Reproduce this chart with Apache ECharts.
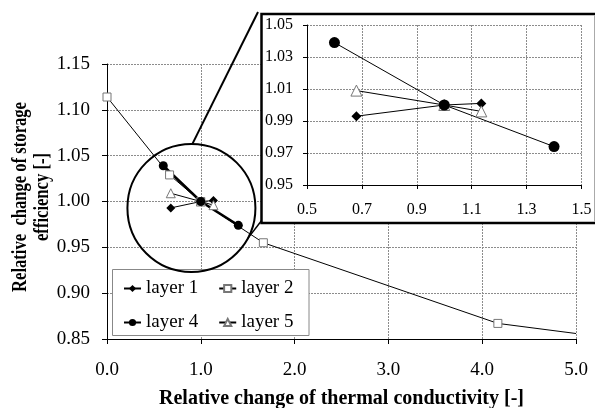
<!DOCTYPE html>
<html><head><meta charset="utf-8">
<script src="https://cdn.jsdelivr.net/npm/echarts@6/dist/echarts.min.js"></script>
<style>html,body{margin:0;padding:0;background:#fff}#c{width:595px;height:408px}</style>
</head><body><div id="c"></div>
<script>
// Relative change of storage efficiency vs. relative change of thermal conductivity
const layer1X = [0.68, 1.0, 1.135];
const layer1Y = [0.993, 1.0, 1.001];
const layer2X = [0.0, 0.667, 1.0, 1.667, 4.167, 5.0];
const layer2Y = [1.114, 1.029, 1.0, 0.955, 0.867, 0.856];
const layer4X = [0.6, 1.0, 1.4];
const layer4Y = [1.039, 1.0, 0.974];
const layer5X = [0.68, 1.0, 1.135];
const layer5Y = [1.009, 1.0, 0.996];

const mainXTicks = [0, 5, 1];        // min, max, step
const mainYTicks = [0.85, 1.15, 0.05];
const zoomXTicks = [0.5, 1.5, 0.2];
const zoomYTicks = [0.95, 1.05, 0.02];
const zoomCentre = [0.9, 0.993];     // centre of the magnifier ring (data units)

const FONT = "'Liberation Serif','Times New Roman',serif";
const pair = (xs, ys) => xs.map((x, i) => [x, ys[i]]);

const grid = '#8c8c8c';
function valueAxis(t, idx, digits, opts) {
  return Object.assign({
    type: 'value', gridIndex: idx, min: t[0], max: t[1], interval: t[2],
    axisLine: { show: true, onZero: false, lineStyle: { color: '#000', width: 1 } },
    axisTick: { show: true, length: 5, lineStyle: { color: '#000' } },
    splitLine: { show: true, lineStyle: { color: grid, type: [2, 1], width: 1 } },
    axisLabel: { fontFamily: FONT, color: '#000', formatter: v => v.toFixed(digits) }
  }, opts);
}

const s1 = { symbol: 'diamond', symbolSize: 9, itemStyle: { color: '#000' }, lineStyle: { color: '#000', width: 1 } };
const s2 = { symbol: 'rect', symbolSize: 8, itemStyle: { color: '#fff', borderColor: '#777', borderWidth: 1 }, lineStyle: { color: '#000', width: 1 } };
const s4 = { symbol: 'circle', symbolSize: 9, itemStyle: { color: '#000' }, lineStyle: { color: '#000', width: 2.5 } };
const s5 = { symbol: 'triangle', symbolSize: 9, itemStyle: { color: '#fff', borderColor: '#777', borderWidth: 1 }, lineStyle: { color: '#000', width: 1 } };

function line(name, data, st, axis, z) {
  return Object.assign({
    type: 'line', name, data, xAxisIndex: axis, yAxisIndex: axis, z,
    showAllSymbol: true, animation: false, emphasis: { disabled: true }
  }, JSON.parse(JSON.stringify(st)));
}

const layer2Data = pair(layer2X, layer2Y).map((p, i, a) =>
  i === a.length - 1 ? { value: p, symbol: 'none' } : p);

const chart = echarts.init(document.getElementById('c'));
const legendCommon = {
  itemWidth: 17, itemHeight: 9, itemGap: 20, z: 5, selectedMode: false, padding: 0,
  textStyle: { fontFamily: FONT, fontSize: 19, color: '#000', width: 58 }
};
chart.setOption({
  animation: false,
  backgroundColor: '#fff',
  grid: [
    { left: 107, top: 64, width: 469, height: 275, outerBoundsMode: 'none', containLabel: false },
    { left: 307, top: 25, width: 274.5, height: 160, z: 11, outerBoundsMode: 'none', containLabel: false }
  ],
  xAxis: [
    valueAxis(mainXTicks, 0, 1, {
      axisLabel: { fontFamily: FONT, color: '#000', fontSize: 19, margin: 22, formatter: v => v.toFixed(1) },
      name: 'Relative change of thermal conductivity [-]', nameLocation: 'middle', nameGap: 50,
      nameTextStyle: { fontFamily: FONT, fontWeight: 'bold', fontSize: 20, color: '#000' }
    }),
    valueAxis(zoomXTicks, 1, 1, {
      z: 11, axisTick: { show: true, length: 4, lineStyle: { color: '#000' } },
      axisLabel: { fontFamily: FONT, color: '#000', fontSize: 16, margin: 17, formatter: v => v.toFixed(1) }
    })
  ],
  yAxis: [
    valueAxis(mainYTicks, 0, 2, {
      axisLabel: { fontFamily: FONT, color: '#000', fontSize: 19, margin: 17, formatter: v => v.toFixed(2) }
    }),
    valueAxis(zoomYTicks, 1, 2, {
      z: 11, axisTick: { show: true, length: 4, lineStyle: { color: '#000' } },
      axisLabel: { fontFamily: FONT, color: '#000', fontSize: 16, margin: 14, formatter: v => v.toFixed(2) }
    })
  ],
  legend: [
    Object.assign({ left: 123, top: 279, data: ['layer 1', 'layer 2'] }, legendCommon),
    Object.assign({ left: 123, top: 313, data: ['layer 4', 'layer 5'] }, legendCommon)
  ],
  series: [
    line('layer 2', layer2Data, s2, 0, 2),
    line('layer 1', pair(layer1X, layer1Y), s1, 0, 2),
    line('layer 5', pair(layer5X, layer5Y), s5, 0, 2),
    line('layer 4', pair(layer4X, layer4Y), s4, 0, 2),
    line('layer 1', pair(layer1X, layer1Y), Object.assign({}, s1, { symbolSize: 10 }), 1, 12),
    line('layer 5', pair(layer5X, layer5Y), Object.assign({}, s5, { symbolSize: 11 }), 1, 12),
    line('layer 4', pair(layer4X, layer4Y), Object.assign({}, s4, { symbolSize: 11, lineStyle: { color: '#000', width: 1 } }), 1, 12)
  ]
});

// Magnifier ring, connectors, inset frame, legend box and the y-axis title
const c = chart.convertToPixel({ xAxisIndex: 0, yAxisIndex: 0 }, zoomCentre);
const R = 64;
chart.setOption({
  graphic: [
    { type: 'rect', z: 3, shape: { x: 112.5, y: 269.5, width: 196.5, height: 66 },
      style: { fill: '#fff', stroke: '#888', lineWidth: 1 } },
    { type: 'circle', z: 6, shape: { cx: c[0], cy: c[1], r: R },
      style: { fill: 'none', stroke: '#000', lineWidth: 2 } },
    { type: 'line', z: 6, shape: { x1: c[0] + 1, y1: c[1] - R, x2: 258, y2: 12 },
      style: { stroke: '#000', lineWidth: 2 } },
    { type: 'line', z: 6, shape: { x1: c[0] + 56, y1: c[1] + 31, x2: 262, y2: 220 },
      style: { stroke: '#000', lineWidth: 1.5 } },
    { type: 'rect', z: 10, shape: { x: 261.5, y: 14, width: 345, height: 209 },
      style: { fill: '#fff', stroke: '#000', lineWidth: 2.5 } },
    { type: 'line', z: 10, shape: { x1: 594.5, y1: 15, x2: 594.5, y2: 222 },
      style: { stroke: '#aaa', lineWidth: 1 } },
    { type: 'text', z: 6, x: 32, y: 197, rotation: Math.PI / 2, scaleX: 0.83,
      style: { text: 'Relative  change of storage\nefficiency [-]', font: "bold 20px 'Liberation Serif','Times New Roman',serif",
        fill: '#000', align: 'center', verticalAlign: 'middle', lineHeight: 22 } }
  ]
});
</script>
</body></html>
